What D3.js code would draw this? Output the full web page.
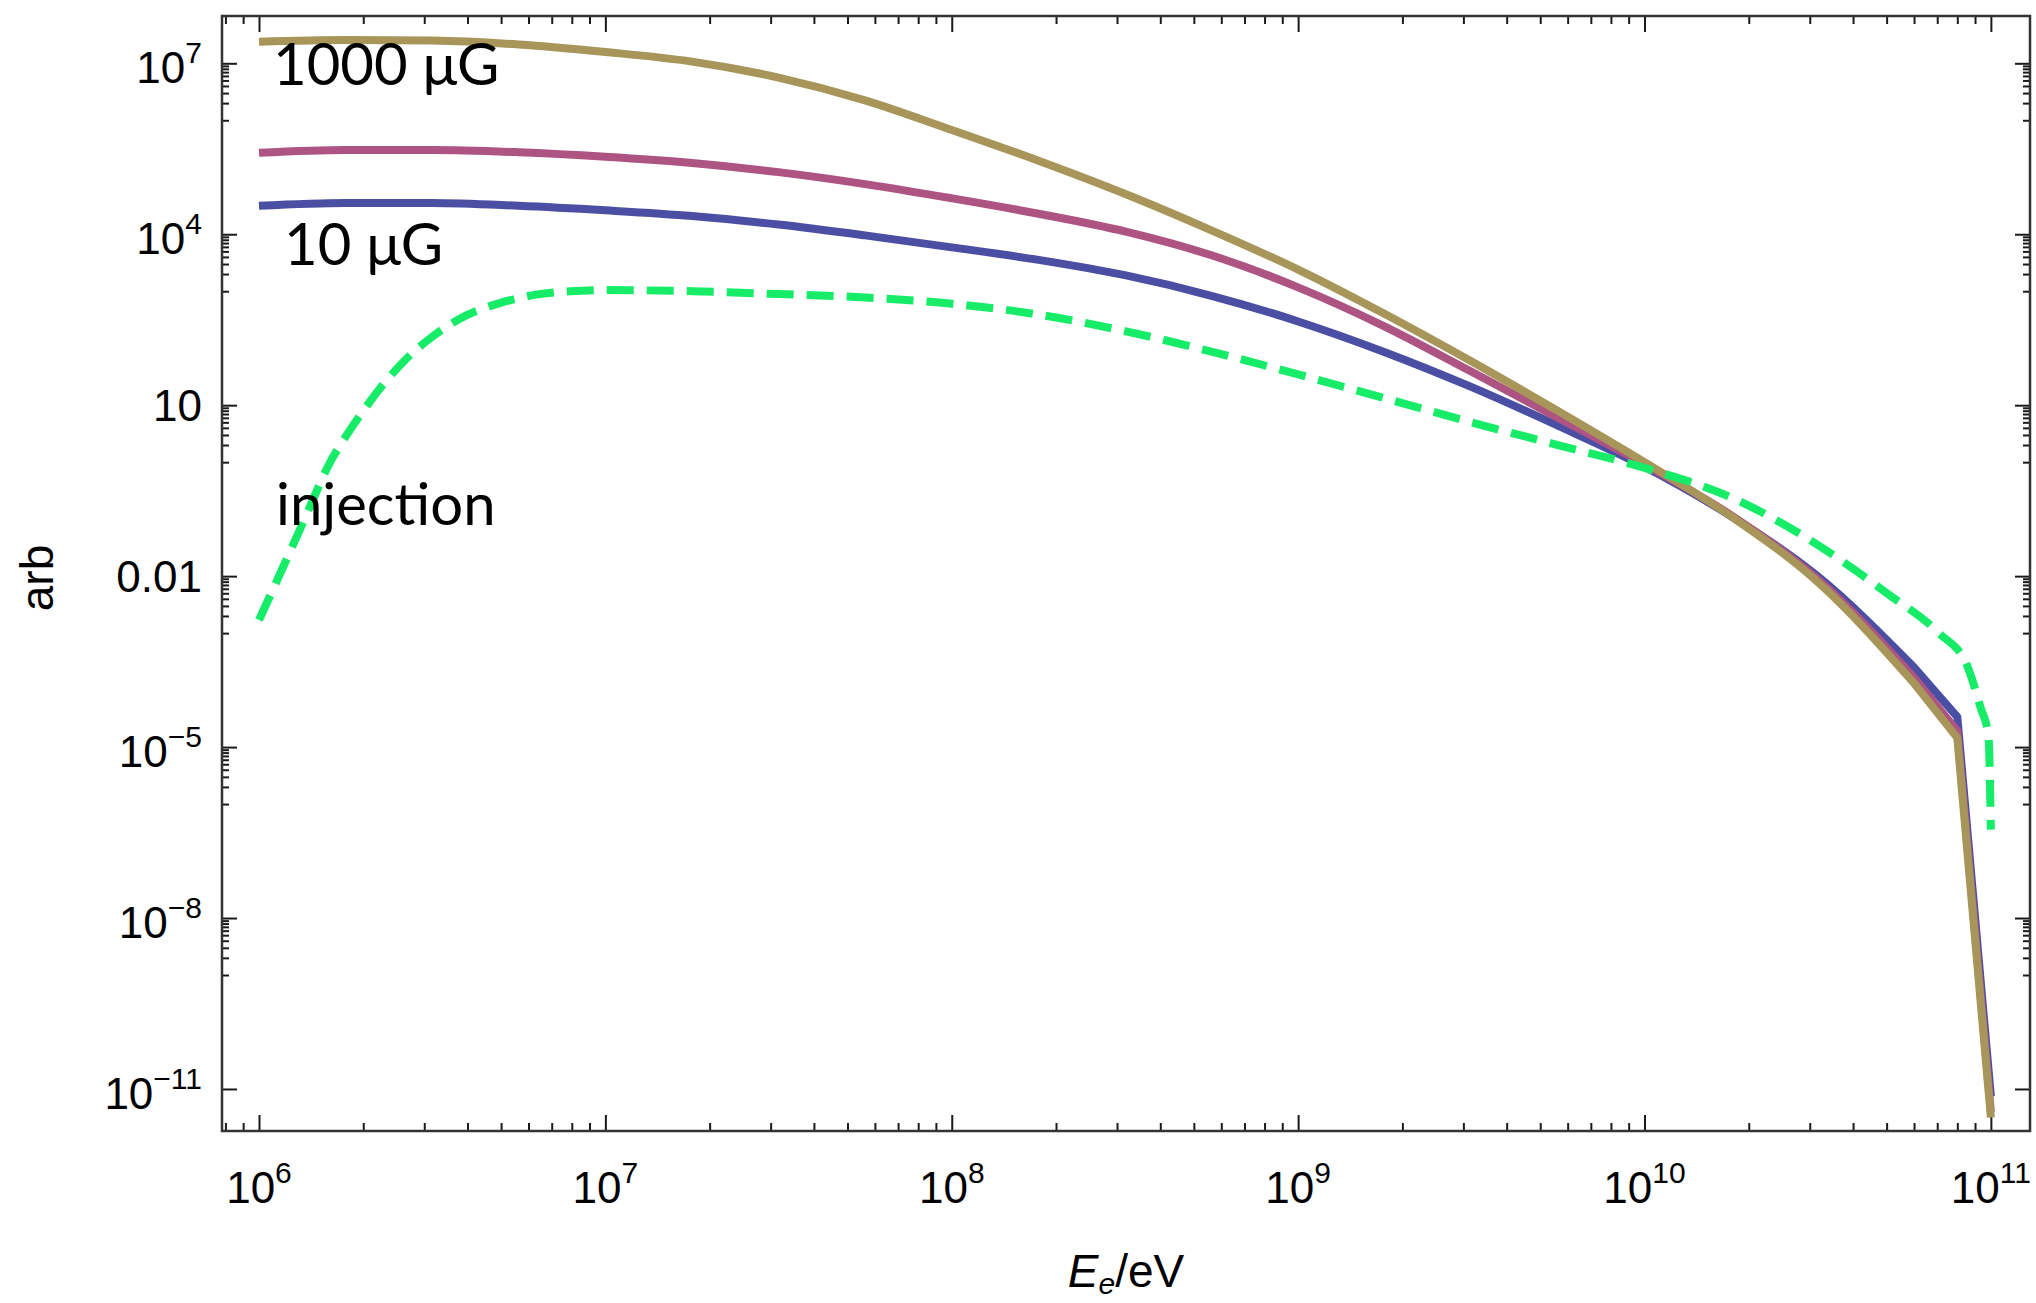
<!DOCTYPE html>
<html><head><meta charset="utf-8">
<script src="https://cdn.jsdelivr.net/npm/d3@7"></script>
<style>body{margin:0;background:#fff}svg{display:block}</style>
</head><body>
<svg id="c" width="2036" height="1303"></svg>
<script>
// ---------------- data ----------------
const energy = [1e6, 1.78e6, 3.16e6, 5.62e6, 1e7, 1.78e7, 3.16e7, 5.62e7, 1e8, 1.78e8, 3.16e8, 5.62e8,
                1e9, 1.78e9, 3.16e9, 5.62e9, 1e10, 1.78e10, 3.16e10, 6e10, 8e10, 1e11];
// 1000 microgauss
const b1000 = [2.4e7, 2.57e7, 2.51e7, 2.14e7, 1.58e7, 1.07e7, 5.62e6, 2.24e6, 6.76e5, 1.95e5, 5.13e4, 1.17e4,
               2.4e3, 398, 58.9, 7.94, 1.0, 0.112, 7.94e-3, 1.32e-4, 1.45e-5, 3.16e-12];
// 100 microgauss
const b100 = [2.69e5, 3.02e5, 3.02e5, 2.75e5, 2.29e5, 1.78e5, 1.23e5, 7.59e4, 4.27e4, 2.29e4, 1.12e4, 4.27e3,
              1.17e3, 240, 38.9, 6.03, 0.912, 0.117, 8.91e-3, 1.66e-4, 1.91e-5, 3.98e-12];
// 10 microgauss
const b10 = [3.16e4, 3.55e4, 3.55e4, 3.16e4, 2.63e4, 2.09e4, 1.48e4, 9.55e3, 5.89e3, 3.55e3, 1.91e3, 832,
             295, 85.1, 20.9, 4.37, 0.832, 0.112, 0.01, 2.51e-4, 3.39e-5, 7.41e-12];
const injEnergy = [1e6, 1.1e6, 1.2e6, 1.32e6, 1.45e6, 1.58e6, 1.78e6, 2e6, 2.24e6, 2.63e6, 3.16e6, 3.98e6,
                   5.01e6, 6.31e6, 7.94e6, 1e7, 1.78e7, 3.16e7, 5.62e7, 1e8, 1.78e8, 3.16e8, 5.62e8, 1e9,
                   1.78e9, 3.16e9, 5.62e9, 1e10, 1.78e10, 3.16e10, 5.01e10, 7.08e10, 8.51e10, 9.33e10, 9.84e10, 1e11];
const injection = [1.7e-3, 6.03e-3, 1.95e-2, 7.08e-2, 0.263, 0.832, 2.82, 7.94, 20, 60.3, 158, 380,
                   631, 871, 1000, 1047, 1000, 891, 776, 603, 389, 200, 87.1, 34.7,
                   13.2, 5.01, 2.0, 0.794, 0.24, 3.55e-2, 5.01e-3, 1e-3, 2.82e-4, 5.01e-5, 1.58e-5, 3.55e-7];

const xTickValues = [1e6, 1e7, 1e8, 1e9, 1e10, 1e11];
const xTickSup = ["6", "7", "8", "9", "10", "11"];
const yTickValues = [1e7, 1e4, 10, 0.01, 1e-5, 1e-8, 1e-11];
const yTickBase = ["10", "10", "10", "0.01", "10", "10", "10"];
const yTickSup = ["7", "4", "", "", "\u22125", "\u22128", "\u221211"];
const curveLabels = ["1000 \u03bcG", "10 \u03bcG", "injection"];

// ---------------- layout ----------------
const L = 222, R = 2030, T = 16, B = 1131;
const svg = d3.select("#c");
const x = d3.scaleLog().domain([7.82e5, 1.297e11]).range([L, R]);
const y = d3.scaleLog().domain([1.83e-12, 6.76e7]).range([B, T]);

const ink = "#1a1a1a";
const tickFont = "'Liberation Sans', Arial, Helvetica, sans-serif";

// minor tick positions
const xMinor = [];
for (let k = 5; k <= 11; k++) for (let j = 2; j <= 9; j++) {
  const v = j * Math.pow(10, k);
  if (v > x.domain()[0] && v < x.domain()[1]) xMinor.push(v);
}
const yMinor = [];
yTickValues.slice(0, 6).forEach(m => { for (let j = 1; j <= 9; j++) yMinor.push(j * m / 10); });

function styleAxis(g) {
  g.select(".domain").remove();
  g.selectAll("line").attr("stroke", ink).attr("stroke-width", 2);
}
svg.append("g").attr("transform", `translate(0,${B})`).call(d3.axisBottom(x).tickValues(xTickValues).tickSize(-16).tickFormat("")).call(styleAxis);
svg.append("g").attr("transform", `translate(0,${B})`).call(d3.axisBottom(x).tickValues(xMinor).tickSize(-8).tickFormat("")).call(styleAxis);
svg.append("g").attr("transform", `translate(0,${T})`).call(d3.axisTop(x).tickValues(xTickValues).tickSize(-16).tickFormat("")).call(styleAxis);
svg.append("g").attr("transform", `translate(0,${T})`).call(d3.axisTop(x).tickValues(xMinor).tickSize(-8).tickFormat("")).call(styleAxis);
svg.append("g").attr("transform", `translate(${L},0)`).call(d3.axisLeft(y).tickValues(yTickValues).tickSize(-15).tickFormat("")).call(styleAxis);
svg.append("g").attr("transform", `translate(${L},0)`).call(d3.axisLeft(y).tickValues(yMinor).tickSize(-7).tickFormat("")).call(styleAxis);
svg.append("g").attr("transform", `translate(${R},0)`).call(d3.axisRight(y).tickValues(yTickValues).tickSize(-15).tickFormat("")).call(styleAxis);
svg.append("g").attr("transform", `translate(${R},0)`).call(d3.axisRight(y).tickValues(yMinor).tickSize(-7).tickFormat("")).call(styleAxis);

svg.append("rect").attr("x", L).attr("y", T).attr("width", R - L).attr("height", B - T)
  .attr("fill", "none").attr("stroke", "#333").attr("stroke-width", 2.5);

// x tick labels
xTickValues.forEach((v, i) => {
  const t = svg.append("text").attr("x", x(v)).attr("y", 1203).attr("text-anchor", "middle")
    .attr("font-family", tickFont).attr("font-size", 44).attr("fill", "#000");
  t.append("tspan").text("10");
  t.append("tspan").attr("dy", -20).attr("font-size", 30).text(xTickSup[i]);
});
// y tick labels
yTickValues.forEach((v, i) => {
  const hasSup = yTickSup[i] !== "";
  const t = svg.append("text").attr("x", 202).attr("y", y(v) + (hasSup ? 20 : 16)).attr("text-anchor", "end")
    .attr("font-family", tickFont).attr("font-size", 44).attr("fill", "#000");
  t.append("tspan").text(yTickBase[i]);
  if (hasSup) t.append("tspan").attr("dy", -20).attr("font-size", 30).text(yTickSup[i]);
});

// axis titles
const xt = svg.append("text").attr("x", 1126).attr("y", 1287).attr("text-anchor", "middle")
  .attr("font-family", tickFont).attr("font-size", 46).attr("fill", "#000");
xt.append("tspan").attr("font-style", "italic").text("E");
xt.append("tspan").attr("font-style", "italic").attr("font-size", 30).attr("dy", 7).text("e");
xt.append("tspan").attr("dy", -7).text("/eV");

svg.append("text").attr("transform", "translate(53,578) rotate(-90)").attr("text-anchor", "middle")
  .attr("font-family", tickFont).attr("font-size", 46).attr("fill", "#000").text("arb");

// ---------------- curves ----------------
const smooth = d3.line().x(d => x(d[0])).y(d => y(d[1])).curve(d3.curveMonotoneX);
const KINK = 19; // sampled points past this are joined by straight segments
function solidPath(vals) {
  const pts = energy.map((e, i) => [e, vals[i]]);
  let d = smooth(pts.slice(0, KINK + 1));
  pts.slice(KINK + 1).forEach(p => { d += `L${x(p[0])},${y(p[1])}`; });
  return d;
}
const series = [
  {v: b10, color: "#4b4fa3"},
  {v: b100, color: "#ad5483"},
  {v: b1000, color: "#a8955a"}
];
const plot = svg.append("g");
series.forEach(s => {
  plot.append("path").attr("d", solidPath(s.v))
    .attr("fill", "none").attr("stroke", s.color).attr("stroke-width", 8)
    .attr("stroke-linejoin", "round");
});
plot.append("path").attr("d", smooth(injEnergy.map((e, i) => [e, injection[i]])))
  .attr("fill", "none").attr("stroke", "#17ec68").attr("stroke-width", 8)
  .attr("stroke-dasharray", "27,13");

// curve labels
const labFont = "Lato, 'Open Sans', sans-serif";
[[273, 85], [284, 265], [276, 525]].forEach((p, i) => {
  svg.append("text").attr("x", p[0]).attr("y", p[1]).attr("font-family", labFont)
    .attr("font-size", 58).attr("fill", "#000").text(curveLabels[i]);
});
</script>
</body></html>
